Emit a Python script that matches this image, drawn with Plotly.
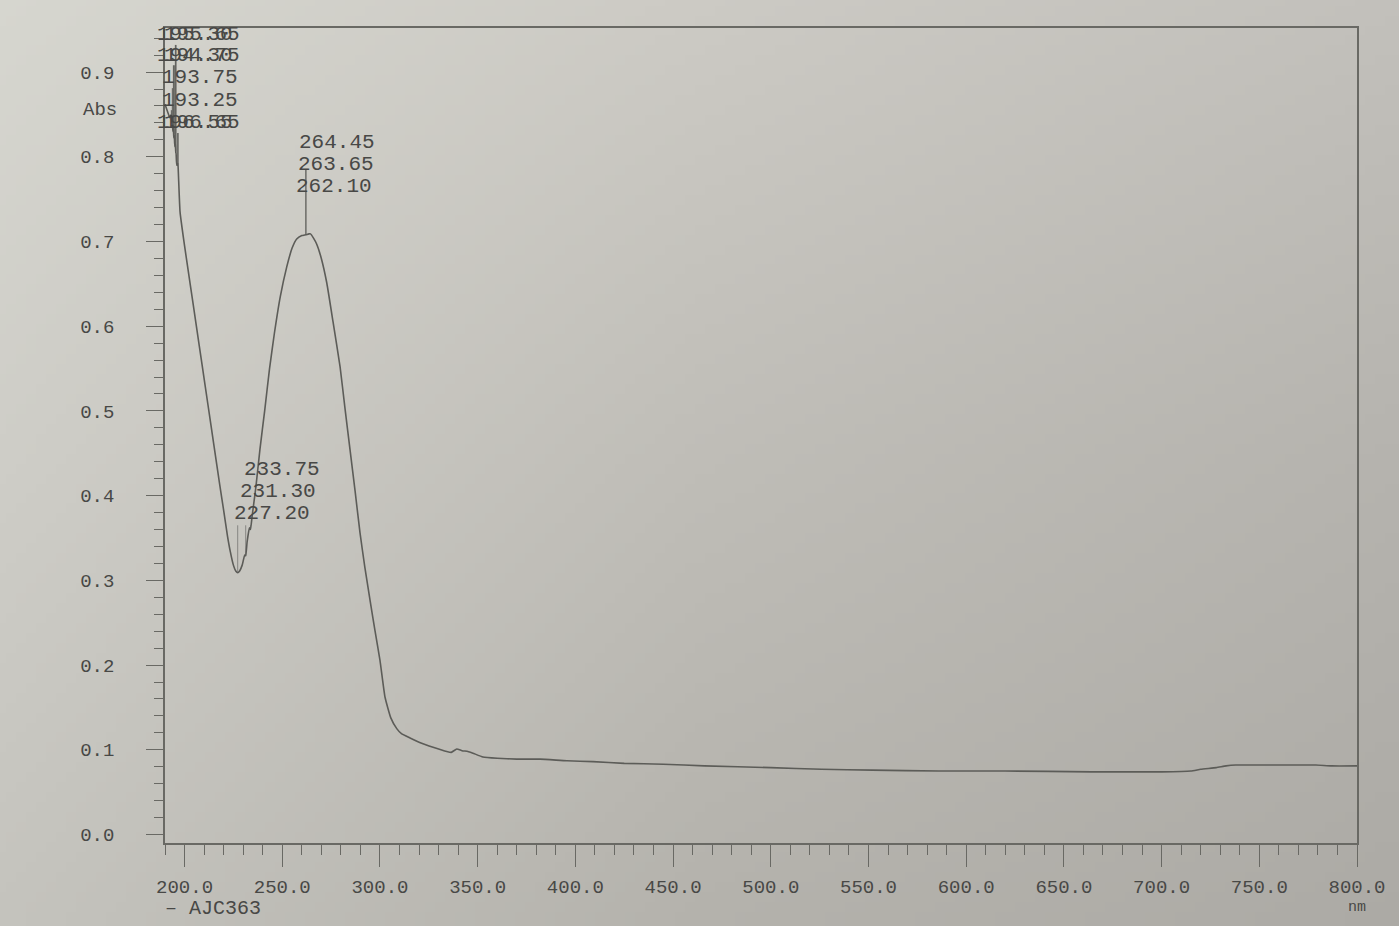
import base64
import struct
import zlib

import plotly.graph_objects as go

# UV-Vis absorbance spectrum of sample AJC363
wavelength = [
    190.0, 191.5, 192.5, 193.25, 193.5, 193.75, 194.0, 194.30, 194.5, 194.75,
    195.0, 195.30, 195.5, 195.65, 196.0, 196.55, 196.65, 197.7, 200.0, 203.0,
    206.0, 209.0, 212.0, 215.0, 218.0, 220.0, 222.0, 223.5, 225.0, 226.2,
    227.2, 228.2, 229.5, 230.8, 231.3, 232.0, 233.2, 233.75, 234.6, 236.5,
    238.6, 241.0, 243.5, 246.0, 249.0, 252.3, 255.0, 257.4, 260.0, 262.1,
    263.65, 264.45, 266.0, 267.6, 270.0, 272.8, 276.0, 279.6, 282.0, 284.7,
    287.3, 289.8, 292.3, 294.9, 297.5, 300.0, 302.6, 305.5, 308.6, 311.0,
    315.4, 321.0, 327.2, 334.2, 336.5, 339.3, 342.0, 345.0, 347.6, 352.7,
    360.0, 370.0, 382.0, 395.7, 409.0, 425.0, 445.0, 466.0, 500.0, 526.0,
    552.0, 586.0, 620.0, 664.0, 700.0, 715.0, 720.0, 728.0, 733.0, 738.0,
    760.0, 779.0, 787.0, 800.0,
]
absorbance = [
    0.862, 0.852, 0.846, 0.850, 0.840, 0.842, 0.830, 0.834, 0.822, 0.826,
    0.812, 0.816, 0.804, 0.806, 0.790, 0.792, 0.791, 0.735, 0.695, 0.648,
    0.601, 0.554, 0.507, 0.460, 0.413, 0.383, 0.352, 0.333, 0.318, 0.311,
    0.309, 0.311, 0.318, 0.330, 0.329, 0.345, 0.362, 0.360, 0.376, 0.410,
    0.455, 0.500, 0.550, 0.592, 0.635, 0.670, 0.692, 0.703, 0.707, 0.708,
    0.709, 0.709, 0.704, 0.697, 0.680, 0.651, 0.605, 0.552, 0.505, 0.454,
    0.405, 0.356, 0.315, 0.277, 0.240, 0.206, 0.162, 0.138, 0.125, 0.119,
    0.114, 0.108, 0.103, 0.098, 0.097, 0.101, 0.099, 0.098, 0.096, 0.0915,
    0.090, 0.089, 0.089, 0.087, 0.086, 0.084, 0.083, 0.081, 0.079, 0.077,
    0.076, 0.075, 0.075, 0.074, 0.074, 0.075, 0.077, 0.079, 0.081, 0.082,
    0.082, 0.082, 0.081, 0.081,
]

# Picked maxima / minima printed by the instrument
peak_labels = ["264.45", "263.65", "262.10"]
valley_labels = ["233.75", "231.30", "227.20"]
edge_label_rows = [
    ("195.30", "195.65"),
    ("194.30", "194.75"),
    ("193.75", None),
    ("193.25", None),
    ("196.55", "196.65"),
]

x_ticks = [200, 250, 300, 350, 400, 450, 500, 550, 600, 650, 700, 750, 800]
y_ticks = [0.0, 0.1, 0.2, 0.3, 0.4, 0.5, 0.6, 0.7, 0.8, 0.9]

W, H = 1399, 926
MONO = "Liberation Mono"
INK = "rgb(72,72,70)"
TRACE = "rgb(92,92,88)"
AXIS = "rgb(105,105,100)"


def interp(x):
    for i in range(len(wavelength) - 1):
        x0, x1 = wavelength[i], wavelength[i + 1]
        if x0 <= x <= x1:
            t = (x - x0) / (x1 - x0) if x1 > x0 else 0
            return absorbance[i] + t * (absorbance[i + 1] - absorbance[i])
    return absorbance[-1]


def paper_png(w, h):
    """Soft paper tone: lighter on the left, greyer to the right and bottom."""
    grid = [
        [(214, 214, 207), (204, 202, 196), (194, 192, 187)],
        [(206, 205, 199), (191, 189, 183), (181, 179, 174)],
        [(196, 195, 189), (180, 178, 172), (172, 170, 165)],
    ]

    def lerp(a, b, t):
        return tuple(a[k] + (b[k] - a[k]) * t for k in range(3))

    rows = []
    for j in range(h):
        v = j / (h - 1) * 2
        jr = min(int(v), 1)
        tv = v - jr
        row = bytearray([0])
        for i in range(w):
            u = i / (w - 1) * 2
            ir = min(int(u), 1)
            tu = u - ir
            top = lerp(grid[jr][ir], grid[jr][ir + 1], tu)
            bot = lerp(grid[jr + 1][ir], grid[jr + 1][ir + 1], tu)
            c = lerp(top, bot, tv)
            row += bytes(int(round(x)) for x in c)
        rows.append(bytes(row))
    raw = b"".join(rows)

    def chunk(tag, data):
        return (struct.pack(">I", len(data)) + tag + data
                + struct.pack(">I", zlib.crc32(tag + data) & 0xFFFFFFFF))

    png = (b"\x89PNG\r\n\x1a\n"
           + chunk(b"IHDR", struct.pack(">IIBBBBB", w, h, 8, 2, 0, 0, 0))
           + chunk(b"IDAT", zlib.compress(raw, 9))
           + chunk(b"IEND", b""))
    return "data:image/png;base64," + base64.b64encode(png).decode()


fig = go.Figure()
fig.add_trace(go.Scatter(
    x=wavelength, y=absorbance, mode="lines",
    line=dict(color=TRACE, width=1.6, shape="spline", smoothing=0.4),
    name="AJC363", showlegend=False, hoverinfo="skip",
))

annotations = []
shapes = []

# peak labels around the 264 nm band
for k, txt in enumerate(peak_labels):
    annotations.append(dict(
        x=257.6 - 0.8 * k, y=0.817 - 0.026 * k, xref="x", yref="y",
        text=txt, showarrow=False, xanchor="left", yanchor="middle",
        font=dict(family=MONO, size=21, color=INK),
    ))
shapes.append(dict(type="line", xref="x", yref="y",
                   x0=float(peak_labels[-1]), x1=float(peak_labels[-1]),
                   y0=interp(float(peak_labels[-1])), y1=0.785,
                   line=dict(color=TRACE, width=1.3)))

# valley labels around the 228 nm minimum
for k, txt in enumerate(valley_labels):
    annotations.append(dict(
        x=229.4 - 2.0 * k - (1.0 if k == 2 else 0), y=0.431 - 0.026 * k,
        xref="x", yref="y",
        text=txt, showarrow=False, xanchor="left", yanchor="middle",
        font=dict(family=MONO, size=21, color=INK),
    ))
for txt in valley_labels:
    v = float(txt)
    shapes.append(dict(type="line", xref="x", yref="y", x0=v, x1=v,
                       y0=interp(v), y1=0.365,
                       line=dict(color="rgba(92,92,88,0.6)", width=1.0)))

# crowded maxima at the short-wavelength edge (printed on top of each other)
row_y = [0.944, 0.920, 0.893, 0.867, 0.840]
for (a, b), yy in zip(edge_label_rows, row_y):
    x_left = 155 / W if b else 160 / W
    annotations.append(dict(
        x=x_left, y=yy, xref="paper", yref="y", text=a, showarrow=False,
        xanchor="left", yanchor="middle",
        font=dict(family=MONO, size=21, color=INK),
    ))
    if b:
        annotations.append(dict(
            x=x_left + 7 / W, y=yy, xref="paper", yref="y", text=b,
            showarrow=False, xanchor="left", yanchor="middle",
            font=dict(family=MONO, size=21, color=INK),
        ))
    for txt in (a, b):
        if txt:
            v = float(txt)
            shapes.append(dict(type="line", xref="x", yref="y", x0=v, x1=v,
                               y0=interp(v), y1=yy - 0.012,
                               line=dict(color=TRACE, width=1.0)))

annotations += [
    dict(x=100 / W, y=1 - 110 / H, xref="paper", yref="paper", text="Abs",
         showarrow=False, xanchor="center", yanchor="middle",
         font=dict(family=MONO, size=19, color=INK)),
    dict(x=163 / W, y=1 - 908 / H, xref="paper", yref="paper",
         text="\u2013 AJC363", showarrow=False, xanchor="left",
         yanchor="middle", font=dict(family=MONO, size=20, color=INK)),
    dict(x=1357 / W, y=1 - 907 / H, xref="paper", yref="paper", text="nm",
         showarrow=False, xanchor="center", yanchor="middle",
         font=dict(family=MONO, size=15, color=INK)),
]

fig.update_layout(
    width=W, height=H, autosize=False,
    margin=dict(l=0, r=0, t=0, b=0, pad=0),
    paper_bgcolor="rgb(190,189,183)",
    plot_bgcolor="rgba(0,0,0,0)",
    images=[dict(source=paper_png(140, 93), xref="paper", yref="paper",
                 x=0, y=1, sizex=1, sizey=1, sizing="stretch",
                 xanchor="left", yanchor="top", layer="below")],
    annotations=annotations,
    shapes=shapes,
    showlegend=False,
    xaxis=dict(
        domain=[165 / W, 1357 / W], range=[190, 800], automargin=False,
        tickvals=x_ticks, ticktext=[f"{v:.1f}" for v in x_ticks],
        ticks="outside", ticklen=22, tickwidth=1.4, tickcolor=AXIS,
        minor=dict(ticks="outside", ticklen=10, tickwidth=1.2,
                   tickcolor=AXIS, dtick=10, tick0=190),
        showline=True, linecolor=AXIS, linewidth=1.5, mirror=True,
        showgrid=False, zeroline=False, ticklabelstandoff=3,
        tickfont=dict(family=MONO, size=19, color=INK),
    ),
    yaxis=dict(
        domain=[1 - 843 / H, 1 - 28 / H], range=[-0.01, 0.952],
        automargin=False,
        tickvals=y_ticks, ticktext=[f"{v:.1f}" for v in y_ticks],
        ticks="outside", ticklen=17, tickwidth=1.4, tickcolor=AXIS,
        minor=dict(ticks="outside", ticklen=9, tickwidth=1.2,
                   tickcolor=AXIS, dtick=0.02, tick0=0),
        showline=True, linecolor=AXIS, linewidth=1.5, mirror=True,
        showgrid=False, zeroline=False, ticklabelstandoff=28,
        tickfont=dict(family=MONO, size=19, color=INK),
    ),
)

# page body without default margins so the figure fills the window exactly
fig.write_html(
    "out.html",
    post_script="document.body.style.margin='0';"
                "document.body.style.overflow='hidden';",
)
